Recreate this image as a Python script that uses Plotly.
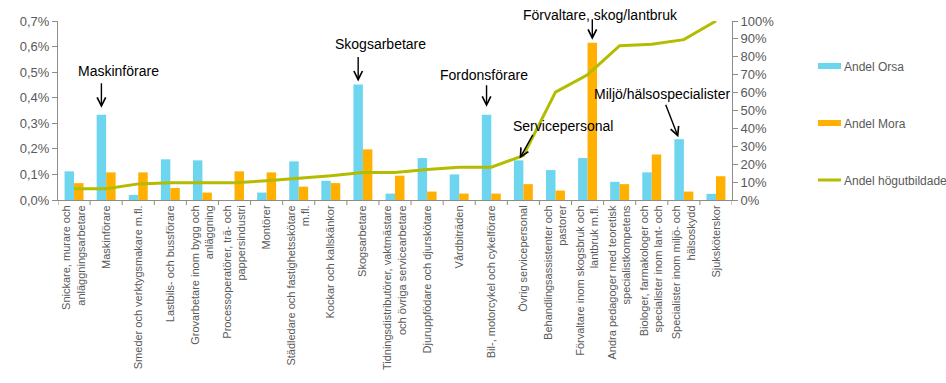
import plotly.graph_objects as go

# Occupation categories (x axis)
categories = [
    "Snickare, murare och<br>anläggningsarbetare",
    "Maskinförare",
    "Smeder och verktygsmakare m.fl.",
    "Lastbils- och bussförare",
    "Grovarbetare inom bygg och<br>anläggning",
    "Processoperatörer, trä- och<br>pappersindustri",
    "Montörer",
    "Städledare och fastighetsskötare<br>m.fl.",
    "Kockar och kallskänkor",
    "Skogsarbetare",
    "Tidningsdistributörer, vaktmästare<br>och övriga servicearbetare",
    "Djuruppfödare och djurskötare",
    "Vårdbiträden",
    "Bil-, motorcykel och cykelförare",
    "Övrig servicepersonal",
    "Behandlingsassistenter och<br>pastorer",
    "Förvaltare inom skogsbruk och<br>lantbruk m.fl.",
    "Andra pedagoger med teoretisk<br>specialistkompetens",
    "Biologer, farmakologer och<br>specialister inom lant- och",
    "Specialister inom miljö- och<br>hälsoskydd",
    "Sjuksköterskor",
]

# Share of employed (percent, left axis)
andel_orsa = [0.112, 0.333, 0.020, 0.159, 0.155, 0.0, 0.029, 0.151, 0.075, 0.452,
              0.025, 0.164, 0.100, 0.333, 0.155, 0.117, 0.164, 0.071, 0.108, 0.238, 0.024]
andel_mora = [0.066, 0.108, 0.108, 0.047, 0.029, 0.112, 0.108, 0.052, 0.066, 0.198,
              0.095, 0.033, 0.025, 0.025, 0.062, 0.037, 0.615, 0.062, 0.178, 0.033, 0.093]

# Share with higher education (percent, right axis)
andel_hogutbildade = [6.3, 6.3, 9.0, 9.6, 9.6, 9.6, 10.8, 12.0, 13.5, 15.4, 15.4,
                      17.0, 18.3, 18.3, 24.8, 60.3, 70.0, 86.2, 87.0, 89.6, 100.0]

series_names = ["Andel Orsa", "Andel Mora", "Andel högutbildade"]

left_ticks = [0, 0.1, 0.2, 0.3, 0.4, 0.5, 0.6, 0.7]
left_ticktext = ["0,0%", "0,1%", "0,2%", "0,3%", "0,4%", "0,5%", "0,6%", "0,7%"]
right_ticks = list(range(0, 101, 10))
right_ticktext = [f"{v}%" for v in right_ticks]

ORSA = "#6DD5ED"
MORA = "#FFB000"
LINE = "#B4BC00"
AXIS = "#8C8C8C"
TEXT = "#595959"
FONT = "Liberation Sans, Arial, sans-serif"

W, H = 946, 383
ML, MR, MT, MB = 58, 214, 21, 183
PW, PH = W - ML - MR, H - MT - MB

BARGAP = 0.41
half = (1 - BARGAP) / 4  # centre offset of each bar within its category

idx = list(range(len(categories)))

fig = go.Figure()
fig.add_trace(go.Bar(x=idx, y=andel_orsa, name=series_names[0], marker_color=ORSA,
                     marker_line_width=0))
fig.add_trace(go.Bar(x=idx, y=andel_mora, name=series_names[1], marker_color=MORA,
                     marker_line_width=0))
fig.add_trace(go.Scatter(x=idx, y=andel_hogutbildade, name=series_names[2],
                         mode="lines", line=dict(color=LINE, width=3),
                         yaxis="y2"))

# Callouts: (label, category index, series, text shift x/y, arrow tail dx/dy, standoff)
callouts = [
    ("Maskinförare", 1, "orsa", 17, 44, 0, -33, 7),
    ("Skogsarbetare", 9, "orsa", 22, 40, 0, -29, 3),
    ("Fordonsförare", 13, "orsa", -3, 40, 0, -31, 8),
    ("Servicepersonal", 14, "orsa", 44, 34, 15, -27, 2),
    ("Förvaltare, skog/lantbruk", 16, "mora", 8, 28, 0, -25, 3),
    ("Miljö/hälsospecialister", 19, "orsa", -17, 45, -14, -36, 2),
]
for label, i, series, tx, ty, adx, ady, so in callouts:
    if series == "orsa":
        xpos, ypos = i - half, andel_orsa[i]
    else:
        xpos, ypos = i + half, andel_mora[i]
    fig.add_annotation(x=xpos, y=ypos, xref="x", yref="y", text="",
                       showarrow=True, ax=adx, ay=ady, axref="pixel", ayref="pixel",
                       arrowhead=5, arrowsize=1.2, arrowwidth=1.4,
                       arrowcolor="black", standoff=so)
    fig.add_annotation(x=xpos, y=ypos, xref="x", yref="y", text=label,
                       showarrow=False, xshift=tx, yshift=ty,
                       font=dict(family=FONT, size=14, color="black"))


def px_x(p):
    return (p - ML) / PW


def px_y(q):
    return (H - MB - q) / PH


# Legend drawn in the right margin: wide flat swatches with labels
legend_rows = [(series_names[0], ORSA, "bar", 66),
               (series_names[1], MORA, "bar", 123),
               (series_names[2], LINE, "line", 180)]
for name, color, kind, yc in legend_rows:
    if kind == "bar":
        fig.add_shape(type="rect", xref="paper", yref="paper",
                      x0=px_x(818), x1=px_x(841), y0=px_y(yc + 3), y1=px_y(yc - 3),
                      line=dict(width=0), fillcolor=color)
    else:
        fig.add_shape(type="line", xref="paper", yref="paper",
                      x0=px_x(818), x1=px_x(841), y0=px_y(yc), y1=px_y(yc),
                      line=dict(color=color, width=3))
    fig.add_annotation(x=px_x(842), y=px_y(yc + 1), xref="paper", yref="paper",
                       text=name, showarrow=False, xanchor="left", yanchor="middle",
                       font=dict(family=FONT, size=12, color=TEXT))

fig.update_layout(
    width=W, height=H,
    margin=dict(l=ML, r=MR, t=MT, b=MB),
    paper_bgcolor="white", plot_bgcolor="white",
    barmode="group", bargap=BARGAP, bargroupgap=0,
    font=dict(family=FONT, color=TEXT),
    showlegend=False,
    xaxis=dict(
        tickmode="array", tickvals=idx, ticktext=categories,
        range=[-0.5, len(categories) - 0.5],
        tickangle=-90, tickfont=dict(size=11, color=TEXT),
        showline=True, linecolor=AXIS, linewidth=1,
        ticks="", showgrid=False, zeroline=False,
    ),
    yaxis=dict(
        range=[0, 0.7], tickvals=left_ticks, ticktext=left_ticktext,
        tickfont=dict(size=13, color=TEXT),
        showline=True, linecolor=AXIS, linewidth=1,
        ticks="outside", ticklen=5, tickcolor=AXIS,
        showgrid=False, zeroline=False,
    ),
    yaxis2=dict(
        range=[0, 100], tickvals=right_ticks, ticktext=right_ticktext,
        overlaying="y", side="right",
        tickfont=dict(size=13, color=TEXT),
        showline=True, linecolor=AXIS, linewidth=1,
        ticks="outside", ticklen=5, tickcolor=AXIS,
        showgrid=False, zeroline=False,
    ),
)

# Category boundary tick marks on the x axis
for b in range(len(categories) + 1):
    fig.add_shape(type="line", xref="x", yref="paper", x0=b - 0.5, x1=b - 0.5,
                  y0=0, y1=-5 / PH, line=dict(color=AXIS, width=1))

fig.write_html("out.html")
